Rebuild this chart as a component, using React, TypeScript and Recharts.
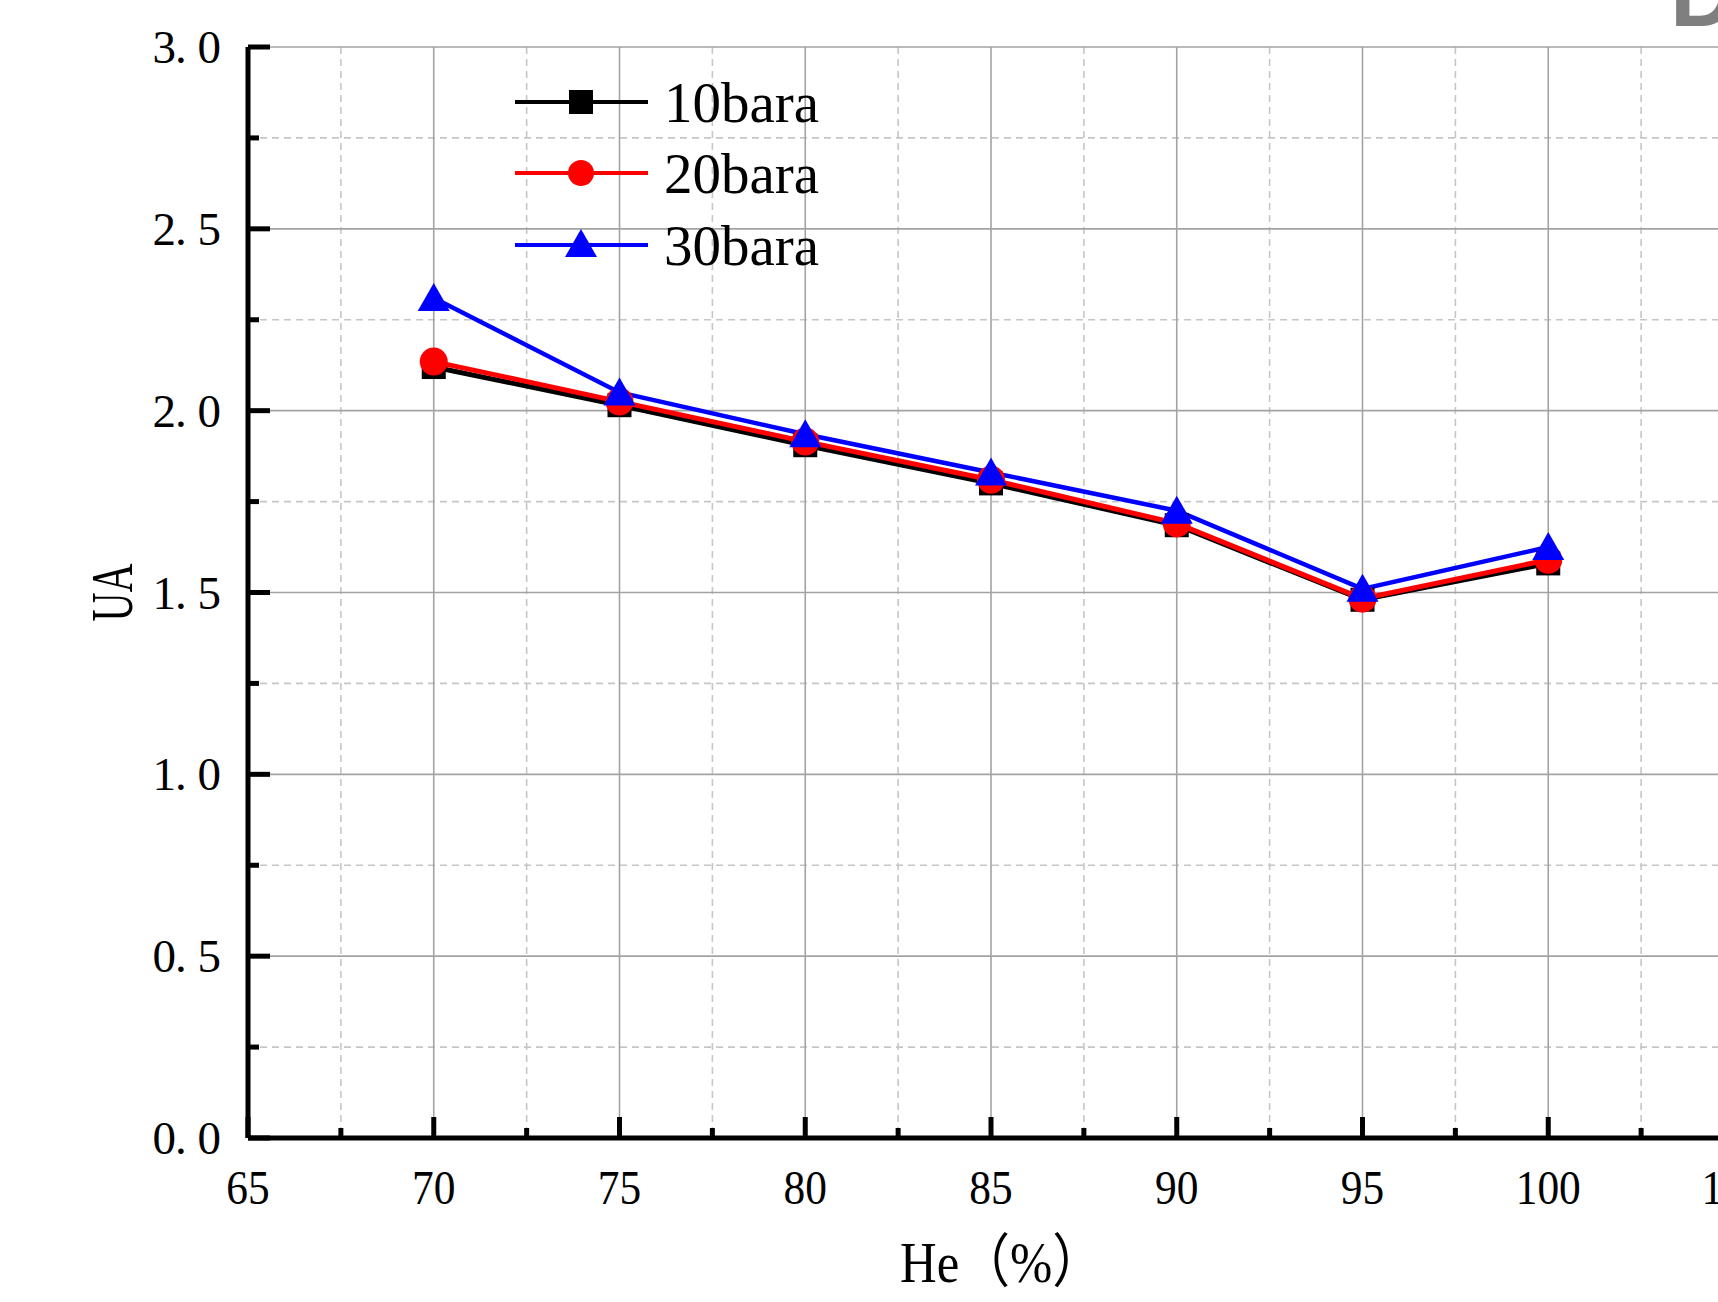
import React from 'react';
import { LineChart, Line, XAxis, YAxis, CartesianGrid, Legend } from 'recharts';

const heCategories = [70, 75, 80, 85, 90, 95, 100];
const ua10bara = [2.12, 2.015, 1.905, 1.8, 1.685, 1.48, 1.58];
const ua20bara = [2.135, 2.025, 1.915, 1.81, 1.69, 1.483, 1.59];
const ua30bara = [2.31, 2.05, 1.935, 1.83, 1.725, 1.51, 1.625];
const seriesNames = ['10bara', '20bara', '30bara'];
const seriesColors = ['#000000', '#ff0000', '#0000ff'];

const xTicks = [65, 67.5, 70, 72.5, 75, 77.5, 80, 82.5, 85, 87.5, 90, 92.5, 95, 97.5, 100, 102.5, 105];
const xMajor = [65, 70, 75, 80, 85, 90, 95, 100, 105];
const xMinor = [67.5, 72.5, 77.5, 82.5, 87.5, 92.5, 97.5, 102.5];
const yTicks = [0, 0.25, 0.5, 0.75, 1, 1.25, 1.5, 1.75, 2, 2.25, 2.5, 2.75, 3];
const yMajor = [0, 0.5, 1, 1.5, 2, 2.5, 3];
const yMinor = [0.25, 0.75, 1.25, 1.75, 2.25, 2.75];
const xLabel = 'He（%）';
const yLabel = 'UA';
const cornerMark = 'D';

const data = heCategories.map((he, i) => ({
  he,
  s10: ua10bara[i],
  s20: ua20bara[i],
  s30: ua30bara[i],
}));

const SERIF = "'Liberation Serif', 'Times New Roman', 'Noto Sans CJK SC', serif";
const isXMajor = (v: number) => Math.abs(v / 5 - Math.round(v / 5)) < 1e-9;
const isYMajor = (v: number) => Math.abs(v * 2 - Math.round(v * 2)) < 1e-9;

const BottomTick = (props: any) => {
  const { x, y, payload } = props;
  const v = payload.value;
  const major = isXMajor(v);
  const label = String(v);
  return (
    <g>
      <line x1={x} x2={x} y1={y} y2={y - (major ? 21 : 10)} stroke="#000" strokeWidth={5} />
      {major && (
        <text
          x={x}
          y={y + 66}
          textAnchor="middle"
          fontFamily={SERIF}
          fontSize={49}
          textLength={label.length * 21.7}
          lengthAdjust="spacingAndGlyphs"
          fill="#000"
        >
          {label}
        </text>
      )}
    </g>
  );
};

const TopTick = (props: any) => {
  const { x, y, payload } = props;
  const major = isXMajor(payload.value);
  return <line x1={x} x2={x} y1={y} y2={y + (major ? 21 : 10)} stroke="#000" strokeWidth={5} />;
};

const LeftTick = (props: any) => {
  const { x, y, payload } = props;
  const v = payload.value;
  const major = isYMajor(v);
  const label = v.toFixed(1);
  const right = x - 28;
  const xs = [right - 67.5, right - 45, right - 22.5].join(' ');
  return (
    <g>
      <line x1={x} x2={x + (major ? 22 : 11)} y1={y} y2={y} stroke="#000" strokeWidth={5} />
      {major && (
        <text x={xs} y={y + 16} fontFamily={SERIF} fontSize={47} fill="#000">
          {label}
        </text>
      )}
    </g>
  );
};

const RightTick = (props: any) => {
  const { x, y, payload } = props;
  const major = isYMajor(payload.value);
  return <line x1={x} x2={x - (major ? 22 : 11)} y1={y} y2={y} stroke="#000" strokeWidth={5} />;
};

const renderSquare = (p: any) =>
  p.cx == null ? null : (
    <rect key={`sq-${p.index}`} x={p.cx - 12} y={p.cy - 12} width={24} height={24} fill="#000" />
  );
const renderCircle = (p: any) =>
  p.cx == null ? null : <circle key={`ci-${p.index}`} cx={p.cx} cy={p.cy} r={14} fill="#ff0000" />;
const renderTriangle = (p: any) =>
  p.cx == null ? null : (
    <polygon
      key={`tr-${p.index}`}
      points={`${p.cx},${p.cy - 15} ${p.cx - 16},${p.cy + 13} ${p.cx + 16},${p.cy + 13}`}
      fill="#0000ff"
    />
  );

const LegendBox = () => {
  const rows = [42, 113, 185];
  return (
    <svg width={320} height={220} style={{ overflow: 'visible' }}>
      {seriesNames.map((name, i) => {
        const cy = rows[i];
        const c = seriesColors[i];
        return (
          <g key={name}>
            <line x1={15} x2={148} y1={cy} y2={cy} stroke={c} strokeWidth={4} />
            {i === 0 && <rect x={81 - 12} y={cy - 12} width={24} height={24} fill={c} />}
            {i === 1 && <circle cx={81} cy={cy} r={13} fill={c} />}
            {i === 2 && (
              <polygon points={`81,${cy - 16} ${81 - 16},${cy + 12} ${81 + 16},${cy + 12}`} fill={c} />
            )}
            <text x={164} y={cy + 20} fontFamily={SERIF} fontSize={57} fill="#000">
              {name}
            </text>
          </g>
        );
      })}
    </svg>
  );
};

const renderYLabel = (p: any) => {
  const vb = p.viewBox || { x: 0, y: 47, width: 248, height: 1091 };
  const cx = vb.x + 132;
  const cy = vb.y + vb.height / 2;
  return (
    <text
      transform={`translate(${cx},${cy}) rotate(-90)`}
      x={0}
      y={0}
      textAnchor="middle"
      fontFamily={SERIF}
      fontSize={60}
      textLength={58}
      lengthAdjust="spacingAndGlyphs"
      fill="#000"
    >
      {yLabel}
    </text>
  );
};

const renderXLabel = (p: any) => {
  const vb = p.viewBox || { x: 248, y: 1138, width: 1486, height: 164 };
  return (
    <text
      x={vb.x + 652}
      y={vb.y + 144}
      fontFamily={SERIF}
      fontSize={58}
      textLength={203}
      lengthAdjust="spacingAndGlyphs"
      fill="#000"
    >
      {xLabel}
    </text>
  );
};

export default function App() {
  return (
    <div
      style={{
        position: 'absolute',
        left: 0,
        top: 0,
        width: 1718,
        height: 1302,
        overflow: 'hidden',
        background: '#fff',
      }}
    >
      <LineChart width={1780} height={1302} data={data} margin={{ top: 47, right: 46, bottom: 0, left: 0 }}>
        <CartesianGrid
          horizontalValues={yMinor}
          verticalValues={xMinor}
          stroke="#c6c6c6"
          strokeDasharray="7 5"
          strokeWidth={1.6}
        />
        <CartesianGrid horizontalValues={yMajor} verticalValues={xMajor} stroke="#a3a3a3" strokeWidth={1.6} />
        <XAxis
          dataKey="he"
          type="number"
          domain={[65, 105]}
          ticks={xTicks}
          interval={0}
          height={164}
          tickSize={0}
          tickMargin={0}
          tickLine={false}
          axisLine={{ stroke: '#000', strokeWidth: 5 }}
          tick={BottomTick}
          label={renderXLabel}
        />
        <XAxis
          xAxisId="top"
          orientation="top"
          dataKey="he"
          type="number"
          domain={[65, 105]}
          ticks={xTicks}
          interval={0}
          height={0}
          tickSize={0}
          tickMargin={0}
          tickLine={false}
          axisLine={{ stroke: '#000', strokeWidth: 5 }}
          tick={TopTick}
        />
        <YAxis
          type="number"
          domain={[0, 3]}
          ticks={yTicks}
          interval={0}
          width={248}
          tickSize={0}
          tickMargin={0}
          tickLine={false}
          axisLine={{ stroke: '#000', strokeWidth: 5 }}
          tick={LeftTick}
          label={renderYLabel}
        />
        <YAxis
          yAxisId="right"
          orientation="right"
          type="number"
          domain={[0, 3]}
          ticks={yTicks}
          interval={0}
          width={0}
          tickSize={0}
          tickMargin={0}
          tickLine={false}
          axisLine={{ stroke: '#000', strokeWidth: 5 }}
          tick={RightTick}
        />
        <Line
          dataKey="s10"
          name={seriesNames[0]}
          stroke={seriesColors[0]}
          strokeWidth={5}
          dot={renderSquare}
          activeDot={false}
          isAnimationActive={false}
        />
        <Line
          dataKey="s20"
          name={seriesNames[1]}
          stroke={seriesColors[1]}
          strokeWidth={5}
          dot={renderCircle}
          activeDot={false}
          isAnimationActive={false}
        />
        <Line
          dataKey="s30"
          name={seriesNames[2]}
          stroke={seriesColors[2]}
          strokeWidth={4.5}
          dot={renderTriangle}
          activeDot={false}
          isAnimationActive={false}
        />
        <Legend
          layout="vertical"
          align="center"
          verticalAlign="middle"
          wrapperStyle={{ left: 500, top: 60, width: 320, height: 220, right: 'auto', bottom: 'auto' }}
          content={() => <LegendBox />}
        />
      </LineChart>
      <svg style={{ position: 'absolute', left: 0, top: 0, pointerEvents: 'none' }} width={1718} height={60}>
        <text x={1670} y={26} fontFamily="'Liberation Sans', Arial, sans-serif" fontWeight="bold" fontSize={92} fill="#7f7f7f">
          {cornerMark}
        </text>
      </svg>
    </div>
  );
}
